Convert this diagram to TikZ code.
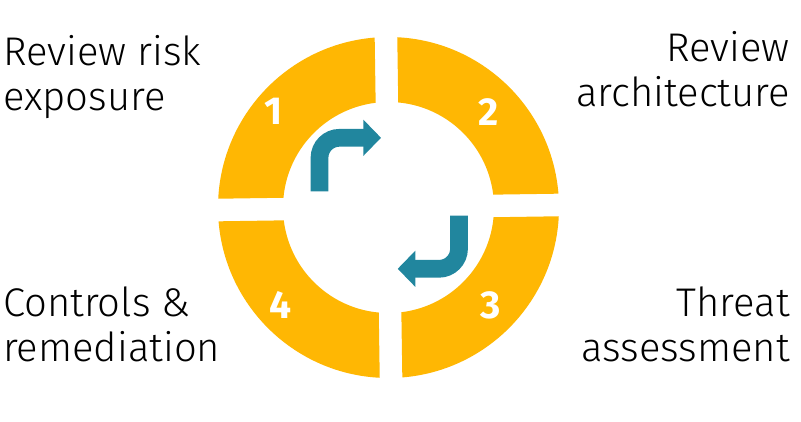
\documentclass[tikz,border=0pt]{standalone}
\usepackage{fontspec}
\setmainfont{Fira Sans}[UprightFont=* Light, BoldFont=* Bold]
\usetikzlibrary{arrows.meta}
\definecolor{ringyellow}{RGB}{255,183,3}
\definecolor{flowteal}{RGB}{33,134,158}
\tikzset{
  segment/.style={fill=ringyellow, even odd rule},
  stepnum/.style={text=white, font=\fontsize{39}{39}\selectfont\bfseries, inner sep=0pt},
  phase/.style={font=\fontsize{40}{45}\selectfont, inner sep=0pt},
  flow/.style={draw=flowteal, line width=17.7pt, rounded corners=20pt,
    -{Triangle[length=17.7pt,width=35.3pt]}}
}
\begin{document}
\begin{tikzpicture}[x=1pt,y=1pt]
  \useasboundingbox (0,0) rectangle (801,421);
  \coordinate (c) at (388.5,213.5);
  % ring segments
  \foreach \a in {0,90,180,270}{
    \begin{scope}[shift={(c)}, rotate=\a+0.85]
      \clip (11.3,11.3) rectangle (190,190);
      \fill[segment] (0,0) circle (170.5) (0,0) circle (105.5);
    \end{scope}
  }
  \node[stepnum] (n1) at (274,309.3) {1};
  \node[stepnum] (n2) at (488.7,309.3) {2};
  \node[stepnum] (n3) at (490.7,116) {3};
  \node[stepnum] (n4) at (281,116) {4};
  % cycle arrows
  \coordinate (a1s) at (319.5,229.7);
  \coordinate (a1e) at (381,283.2);
  \draw[flow] (a1s) |- (a1e);
  \coordinate (a2s) at (459,205.3);
  \coordinate (a2e) at (397.7,152.2);
  \draw[flow] (a2s) |- (a2e);
  % phase labels
  \node[phase, anchor=base west, align=left] (risk) at (3,310) {Review risk\\exposure};
  \node[phase, anchor=base east, align=right] (arch) at (790,314.3) {Review\\architecture};
  \node[phase, anchor=base east, align=right] (threat) at (790,59.3) {Threat\\assessment};
  \node[phase, anchor=base west, align=left] (ctrl) at (3,59.3) {Controls \&\\remediation};
\end{tikzpicture}
\end{document}
